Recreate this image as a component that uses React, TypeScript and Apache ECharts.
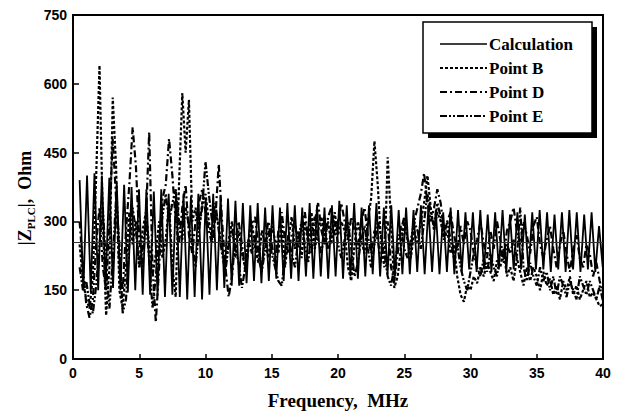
import React, { useEffect, useRef } from "react";
import * as echarts from "echarts";

// ---------- data ----------
const xTicks = [0, 5, 10, 15, 20, 25, 30, 35, 40];
const yTicks = [0, 150, 300, 450, 600, 750];

// Calculation: alternating peak / trough samples, start 0.5 MHz, step 0.28 MHz
const calcStart = 0.5;
const calcStep = 0.28;
const calcValues = [
  390, 150, 400, 145, 405, 150, 400, 160,
  395, 155, 385, 150, 380, 145, 375, 150, 370, 140,
  370, 140, 365, 138, 370, 135, 360, 140, 365, 135,
  360, 130, 355, 135, 360, 130, 350, 140,
  360, 150, 355, 155, 350, 160, 345, 160, 340, 165,
  335, 170, 340, 165, 330, 170, 335, 175, 330, 170,
  340, 175, 335, 170, 330, 180, 340, 175, 335, 180, 330, 175, 335, 180,
  345, 175, 335, 180, 340, 175, 330, 180, 335, 185, 340, 180, 330, 185, 335, 180, 325, 185,
  330, 185, 325, 190, 335, 185, 330, 190, 325, 185, 320, 190, 330, 185, 325, 190, 320, 195,
  320, 190, 325, 195, 315, 190, 320, 195, 325, 190, 315, 195, 320, 195, 315, 190, 320, 195,
  325, 195, 320, 190, 315, 195, 320, 190, 325, 195, 320, 190, 315, 195, 320, 190, 290, 200,
];
const calcReference = 255;

// Measured series: start 0.5 MHz, step 0.25 MHz (4 values per row)
const measStart = 0.5;
const measStep = 0.25;
const pointB = [
  250, 170, 130, 110,
  180, 400, 640, 300,
  95, 200, 570, 420,
  150, 110, 200, 320,
  250, 300, 200, 280,
  320, 250, 180, 230,
  300, 220, 260, 340,
  200, 135, 380, 580,
  450, 565, 300, 330,
  280, 340, 360, 300,
  260, 320, 290, 240,
  200, 260, 300, 220,
  280, 230, 200, 260,
  300, 240, 210, 280,
  250, 220, 290, 260,
  230, 300, 200, 260,
  310, 240, 280, 220,
  300, 250, 320, 240,
  280, 310, 260, 300,
  250, 320, 270, 300,
  280, 200, 170, 250,
  300, 260, 230, 300,
  350, 475, 380, 250,
  200, 440, 300, 155,
  180, 240, 300, 260,
  220, 280, 250, 300,
  340, 400, 330, 280,
  320, 300, 260, 280,
  230, 250, 180, 140,
  125, 160, 150, 180,
  165, 200, 180, 210,
  190, 170, 215, 200,
  240, 180, 200, 170,
  220, 190, 160, 200,
  170, 200, 180, 150,
  190, 160, 175, 140,
  160, 130, 170, 150,
  180, 140, 160, 130,
  150, 170, 135, 145,
  130, 115, 120,
];
const pointD = [
  300, 200, 120, 90,
  130, 250, 330, 200,
  150, 300, 480, 350,
  200, 150, 280, 380,
  505, 420, 260, 200,
  300, 495, 200, 80,
  200, 350, 380, 480,
  400, 300, 250, 330,
  380, 270, 230, 300,
  340, 370, 320, 280,
  250, 310, 425, 300,
  200, 135, 180, 260,
  300, 250, 190, 240,
  290, 310, 240, 200,
  260, 300, 250, 210,
  280, 320, 260, 230,
  270, 300, 240, 290,
  320, 260, 230, 300,
  340, 280, 250, 310,
  330, 270, 300, 340,
  300, 260, 310, 280,
  240, 300, 330, 270,
  230, 280, 260, 210,
  260, 300, 200, 170,
  230, 280, 310, 260,
  240, 300, 330, 360,
  405, 340, 300, 330,
  370, 340, 280, 300,
  320, 270, 240, 290,
  250, 300, 280, 230,
  260, 300, 250, 220,
  280, 240, 300, 260,
  220, 280, 300, 330,
  280, 250, 300, 270,
  230, 290, 310, 250,
  220, 260, 290, 240,
  200, 250, 280, 230,
  190, 240, 270, 220,
  200, 250, 230, 180,
  210, 170, 145,
];
const pointE = [
  200, 150, 170, 120,
  100, 160, 250, 330,
  200, 110, 220, 350,
  250, 100, 130, 250,
  330, 280, 200, 240,
  300, 220, 110, 180,
  260, 310, 360, 300,
  340, 370, 300, 260,
  330, 290, 250, 200,
  280, 330, 430, 360,
  300, 340, 280, 230,
  190, 250, 280, 240,
  210, 155, 200, 260,
  230, 270, 220, 190,
  240, 280, 230, 200,
  170, 160, 220, 270,
  230, 200, 260, 300,
  250, 210, 280, 310,
  260, 230, 290, 240,
  280, 300, 250, 220,
  260, 300, 240, 180,
  210, 260, 290, 240,
  200, 250, 300, 270,
  230, 180, 160, 200,
  250, 290, 240, 220,
  260, 300, 280, 240,
  300, 360, 320, 290,
  340, 310, 270, 300,
  260, 220, 250, 200,
  170, 150, 190, 230,
  200, 180, 220, 190,
  230, 200, 180, 240,
  210, 250, 230, 260,
  220, 330, 200, 170,
  210, 180, 160, 200,
  170, 190, 150, 180,
  140, 180, 160, 135,
  170, 150, 130, 180,
  160, 140, 170, 150,
  130, 160, 125,
];

const seriesNames = ["Calculation", "Point B", "Point D", "Point E"];
const dashB = [3, 2];
const dashD = [7, 3, 2, 3];
const dashE = [7, 2, 2, 2, 2, 2];

const SERIF = "'Liberation Serif', 'Times New Roman', serif";
const SANS = "'Liberation Sans', Arial, sans-serif";

export default function App() {
  const ref = useRef<HTMLDivElement>(null);

  useEffect(() => {
    if (!ref.current) return;
    const chart = echarts.init(ref.current, null, { renderer: "svg" });

    const toPairs = (vals: number[], start: number, step: number) =>
      vals.map((v, i) => [+(start + i * step).toFixed(3), v]);

    const legendX = 423;
    const legendY = 22;
    const legendW = 169;
    const legendH = 111;
    const rowYs = [44, 68, 92, 116];
    const dashes: any[] = ["solid", dashB, dashD, dashE];

    const legendEls: any[] = [
      {
        type: "rect",
        shape: { x: legendX + 5, y: legendY + 5, width: legendW, height: legendH },
        style: { fill: "#000" },
        silent: true,
      },
      {
        type: "rect",
        shape: { x: legendX, y: legendY, width: legendW, height: legendH },
        style: { fill: "#fff", stroke: "#000", lineWidth: 1.5 },
        silent: true,
      },
    ];
    seriesNames.forEach((name, i) => {
      legendEls.push({
        type: "line",
        shape: { x1: 440, y1: rowYs[i], x2: 487, y2: rowYs[i] },
        style: {
          stroke: "#000",
          lineWidth: i === 0 ? 1.5 : 2,
          lineDash: i === 0 ? null : dashes[i],
        },
        silent: true,
      });
      legendEls.push({
        type: "text",
        x: 489,
        y: rowYs[i],
        style: {
          text: name,
          fill: "#000",
          font: `bold 17px ${SERIF}`,
          align: "left",
          verticalAlign: "middle",
        },
        silent: true,
      });
    });

    const yTitle = {
      type: "text",
      x: 25,
      y: 198,
      rotation: Math.PI / 2,
      style: {
        text: "{a||Z}{s|PLC}{a||,  Ohm}",
        align: "center",
        verticalAlign: "middle",
        rich: {
          a: { fontSize: 18, fontWeight: "bold", fontFamily: SERIF, fill: "#000", lineHeight: 22 },
          s: {
            fontSize: 11,
            fontWeight: "bold",
            fontFamily: SERIF,
            fill: "#000",
            lineHeight: 22,
            verticalAlign: "bottom",
            padding: [8, 0, 0, 0],
          },
        },
      },
      silent: true,
    };

    const option: any = {
      animation: false,
      backgroundColor: "#fff",
      grid: {
        left: 73,
        right: 18,
        top: 15,
        bottom: 55,
        show: true,
        borderColor: "#000",
        borderWidth: 2,
        backgroundColor: "transparent",
      },
      xAxis: {
        type: "value",
        min: xTicks[0],
        max: xTicks[xTicks.length - 1],
        interval: 5,
        name: "Frequency,  MHz",
        nameLocation: "middle",
        nameGap: 32,
        nameTextStyle: { fontFamily: SERIF, fontWeight: "bold", fontSize: 19, color: "#000" },
        axisLine: { show: true, lineStyle: { color: "#000", width: 2 } },
        axisTick: { show: true, inside: true, length: 5, lineStyle: { color: "#000", width: 1.5 } },
        axisLabel: { color: "#000", fontFamily: SANS, fontWeight: "bold", fontSize: 14, margin: 7 },
        splitLine: { show: false },
      },
      yAxis: {
        type: "value",
        min: yTicks[0],
        max: yTicks[yTicks.length - 1],
        interval: 150,
        axisLine: { show: true, lineStyle: { color: "#000", width: 2 } },
        axisTick: { show: true, inside: true, length: 6, lineStyle: { color: "#000", width: 1.5 } },
        axisLabel: { color: "#000", fontFamily: SANS, fontWeight: "bold", fontSize: 14, margin: 6 },
        splitLine: { show: false },
      },
      series: [
        {
          name: seriesNames[0],
          type: "line",
          data: toPairs(calcValues, calcStart, calcStep),
          showSymbol: false,
          lineStyle: { color: "#000", width: 1.8, type: "solid" },
          markLine: {
            silent: true,
            symbol: "none",
            label: { show: false },
            lineStyle: { color: "#333", width: 1, type: "solid" },
            data: [{ yAxis: calcReference }],
          },
        },
        {
          name: seriesNames[1],
          type: "line",
          data: toPairs(pointB, measStart, measStep),
          showSymbol: false,
          lineStyle: { color: "#000", width: 2.2, type: dashB },
        },
        {
          name: seriesNames[2],
          type: "line",
          data: toPairs(pointD, measStart, measStep),
          showSymbol: false,
          lineStyle: { color: "#000", width: 2.2, type: dashD },
        },
        {
          name: seriesNames[3],
          type: "line",
          data: toPairs(pointE, measStart, measStep),
          showSymbol: false,
          lineStyle: { color: "#000", width: 2.2, type: dashE },
        },
      ],
      graphic: [yTitle, ...legendEls],
    };

    chart.setOption(option);
    return () => chart.dispose();
  }, []);

  return (
    <div
      ref={ref}
      style={{ width: 621, height: 415, position: "absolute", left: 0, top: 0, background: "#fff" }}
    />
  );
}
